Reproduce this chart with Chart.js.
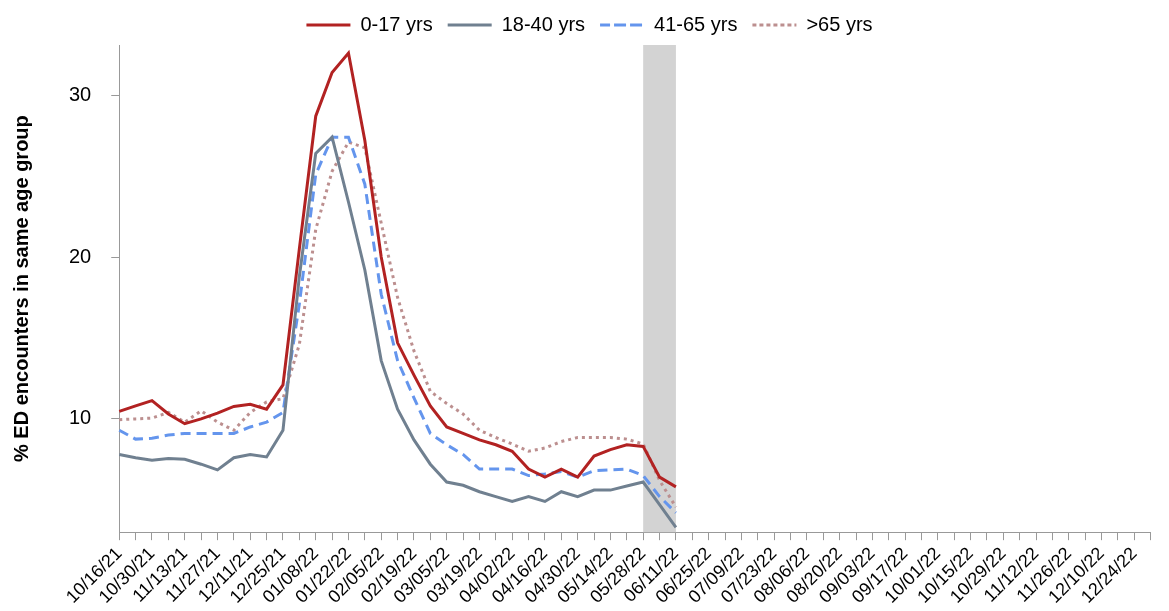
<!DOCTYPE html>
<html>
<head>
<meta charset="utf-8">
<script src="https://cdn.jsdelivr.net/npm/chart.js@4"></script>
<style>
  body { margin: 0; background: #fff; }
  #wrap { width: 1169px; height: 611px; }
</style>
</head>
<body>
<div id="wrap"><canvas id="myChart"></canvas></div>
<script>
// weekly dates, 10/16/21 .. 12/31/22
var weeks = [];
var d0 = new Date(2021, 9, 16);
for (var i = 0; i < 64; i++) {
    var d = new Date(d0.getFullYear(), d0.getMonth(), d0.getDate() + 7 * i);
    var mm = ('0' + (d.getMonth() + 1)).slice(-2);
    var dd = ('0' + d.getDate()).slice(-2);
    weeks.push(mm + '/' + dd + '/' + String(d.getFullYear()).slice(-2));
}

var age0to17 = [10.46, 10.8, 11.13, 10.3, 9.7, 10.0, 10.35, 10.77, 10.9, 10.6, 12.1, 20.5,
    28.7, 31.4, 32.6, 27.2, 20.0, 14.7, 12.7, 10.8, 9.5, 9.1, 8.7, 8.4, 8.0, 6.9, 6.4, 6.9,
    6.4, 7.7, 8.1, 8.4, 8.3, 6.4, 5.8];
var age18to40 = [7.8, 7.6, 7.45, 7.55, 7.5, 7.2, 6.85, 7.6, 7.8, 7.65, 9.3, 18.8,
    26.4, 27.4, 23.4, 19.2, 13.6, 10.6, 8.7, 7.2, 6.1, 5.9, 5.5, 5.2, 4.9, 5.2, 4.9, 5.5,
    5.2, 5.6, 5.6, 5.85, 6.1, 4.7, 3.3];
var age41to65 = [9.3, 8.75, 8.8, 9.0, 9.1, 9.1, 9.1, 9.1, 9.5, 9.8, 10.4, 17.1,
    25.1, 27.4, 27.4, 24.5, 17.7, 13.6, 11.3, 9.1, 8.4, 7.8, 6.9, 6.9, 6.9, 6.5, 6.6, 6.75,
    6.4, 6.8, 6.85, 6.9, 6.5, 5.2, 4.2];
var age65plus = [9.95, 10.0, 10.05, 10.4, 9.8, 10.5, 9.8, 9.3, 10.4, 11.05, 11.25, 14.6,
    21.7, 25.3, 27.1, 26.75, 22.1, 17.5, 14.2, 11.7, 10.95, 10.3, 9.3, 8.85, 8.45, 8.0, 8.2, 8.6,
    8.85, 8.85, 8.85, 8.75, 8.45, 6.2, 4.55];
var shadeFrom = '05/28/22';
var shadeTo = '06/11/22';

var shadePlugin = {
    id: 'shade',
    beforeDatasetsDraw: function (chart) {
        var x = chart.scales.x, a = chart.chartArea, c = chart.ctx;
        var x1 = x.getPixelForValue(weeks.indexOf(shadeFrom));
        var x2 = x.getPixelForValue(weeks.indexOf(shadeTo));
        c.save();
        c.fillStyle = '#d3d3d3';
        c.fillRect(x1, a.top, x2 - x1, a.bottom - a.top);
        c.restore();
    }
};

function ds(label, data, color, dash) {
    return { label: label, data: data, borderColor: color, backgroundColor: color,
        borderWidth: 3, borderDash: dash, pointRadius: 0, tension: 0, fill: false };
}

var ctx = document.getElementById('myChart').getContext('2d');
var chart = new Chart(ctx, {
    type: 'line',
    data: {
        labels: weeks,
        datasets: [
            ds('0-17 yrs', age0to17, '#b22222', []),
            ds('18-40 yrs', age18to40, '#708090', []),
            ds('41-65 yrs', age41to65, '#6495ed', [10, 6]),
            ds('>65 yrs', age65plus, '#bc8f8f', [3, 4])
        ]
    },
    plugins: [shadePlugin],
    options: {
        responsive: true,
        maintainAspectRatio: false,
        animation: false,
        layout: { padding: { left: 10, right: 0, top: 0 } },
        plugins: {
            legend: {
                position: 'top',
                labels: { font: { family: 'Liberation Sans', size: 20 }, color: '#000',
                    boxWidth: 44, boxHeight: 0, padding: 15 }
            },
            tooltip: { enabled: false }
        },
        scales: {
            x: {
                offset: false,
                grid: { display: true, drawOnChartArea: false, color: '#999', tickLength: 8 },
                border: { color: '#999' },
                ticks: {
                    autoSkip: false, maxRotation: 45, minRotation: 45, color: '#000',
                    font: { family: 'Liberation Sans', size: 18 },
                    callback: function (v, i) { return i % 2 === 0 ? weeks[i] : ''; }
                }
            },
            y: {
                min: 3, max: 33.1,
                grid: { display: true, drawOnChartArea: false, color: '#999', tickLength: 8 },
                border: { color: '#999' },
                ticks: { stepSize: 10, color: '#000', padding: 20, font: { family: 'Liberation Sans', size: 20 },
                    callback: function (v) { return v % 10 === 0 ? v : ''; } },
                afterBuildTicks: function (s) { s.ticks = [{ value: 10 }, { value: 20 }, { value: 30 }]; },
                title: { display: true, text: '% ED encounters in same age group', color: '#000', padding: { top: 0, bottom: 15 },
                    font: { family: 'Liberation Sans', size: 20, weight: 'bold' } }
            }
        }
    }
});
</script>
</body>
</html>
